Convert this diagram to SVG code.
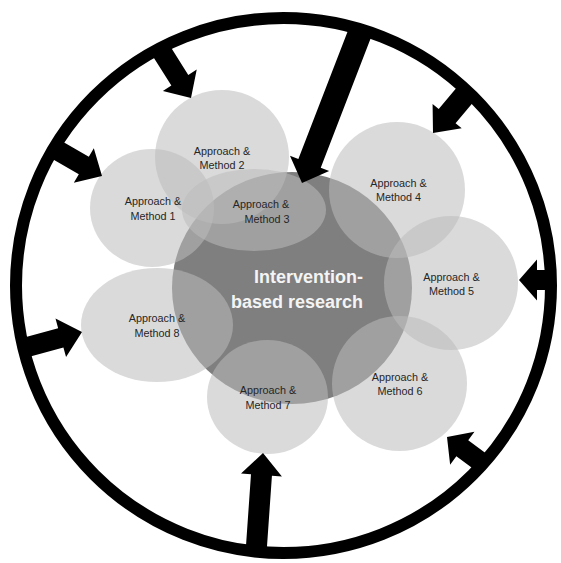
<svg xmlns="http://www.w3.org/2000/svg" width="561" height="563" viewBox="0 0 561 563">
<style>
.ring{fill:none;stroke:#000;stroke-width:12}
.core{fill:#7f7f7f}
.m{fill:#bcbcbc;fill-opacity:0.55}
.t{font-family:"Liberation Sans",Arial,sans-serif;font-size:10.8px;fill:#262626;text-anchor:middle}
.ct{font-family:"Liberation Sans",Arial,sans-serif;font-size:18px;font-weight:bold;fill:#f4f4f4;text-anchor:end}
.arr{fill:#000}
</style>
<rect width="561" height="563" fill="#fff"/>
<circle class="ring" cx="283.5" cy="285.5" r="267.5"/>
<g id="core">
<ellipse class="core" cx="292" cy="288" rx="120" ry="116"/>
<text class="ct" x="363" y="283">Intervention-</text>
<text class="ct" x="363" y="308">based research</text>
</g>
<g id="m2">
<circle class="m" cx="222" cy="157" r="67"/>
<text class="t" x="222" y="154.5">Approach &amp;</text>
<text class="t" x="222" y="168.5">Method 2</text>
</g>
<g id="m1">
<ellipse class="m" cx="152" cy="208" rx="62" ry="59"/>
<text class="t" x="153" y="205">Approach &amp;</text>
<text class="t" x="153" y="219.5">Method 1</text>
</g>
<g id="m3">
<ellipse class="m" cx="254" cy="210" rx="72" ry="41"/>
<text class="t" x="261" y="207.7">Approach &amp;</text>
<text class="t" x="267" y="222.7">Method 3</text>
</g>
<g id="m4">
<circle class="m" cx="397" cy="190" r="68"/>
<text class="t" x="398.5" y="186.7">Approach &amp;</text>
<text class="t" x="398.5" y="201">Method 4</text>
</g>
<g id="m5">
<circle class="m" cx="451" cy="283" r="67"/>
<text class="t" x="451.5" y="281">Approach &amp;</text>
<text class="t" x="451.5" y="295">Method 5</text>
</g>
<g id="m6">
<circle class="m" cx="399.5" cy="383.5" r="67.5"/>
<text class="t" x="400" y="380.7">Approach &amp;</text>
<text class="t" x="400" y="395">Method 6</text>
</g>
<g id="m7">
<ellipse class="m" cx="267.5" cy="397" rx="60.5" ry="57"/>
<text class="t" x="268" y="394.3">Approach &amp;</text>
<text class="t" x="268" y="409">Method 7</text>
</g>
<g id="m8">
<ellipse class="m" cx="157" cy="325" rx="76" ry="57"/>
<text class="t" x="157" y="322.3">Approach &amp;</text>
<text class="t" x="157" y="336.7">Method 8</text>
</g>
<g id="connectors">
<polygon class="arr" transform="translate(191,98) rotate(57.8)" points="0,0 -21,-20 -21,-10 -59,-10 -59,10 -21,10 -21,20"/>
<polygon class="arr" transform="translate(102,176) rotate(30)" points="0,0 -21,-20 -21,-10 -56,-10 -56,10 -21,10 -21,20"/>
<polygon class="arr" transform="translate(302,183) rotate(111.1)" points="0,0 -21,-21 -21,-12 -164,-12 -164,12 -21,12 -21,21"/>
<polygon class="arr" transform="translate(433,133) rotate(130)" points="0,0 -22,-19 -22,-11 -54,-11 -54,11 -22,11 -22,19"/>
<polygon class="arr" transform="translate(519,280) rotate(180)" points="0,0 -18,-20.5 -18,-10 -33,-10 -33,10 -18,10 -18,20.5"/>
<polygon class="arr" transform="translate(447,437) rotate(216.4)" points="0,0 -19,-20.5 -19,-10 -45,-10 -45,10 -19,10 -19,20.5"/>
<polygon class="arr" transform="translate(263,453) rotate(-86)" points="0,0 -22,-20.5 -22,-10.5 -100,-10.5 -100,10.5 -22,10.5 -22,20.5"/>
<polygon class="arr" transform="translate(82,332) rotate(-15.3)" points="0,0 -22,-20 -22,-10 -62,-10 -62,10 -22,10 -22,20"/>
</g>
</svg>
